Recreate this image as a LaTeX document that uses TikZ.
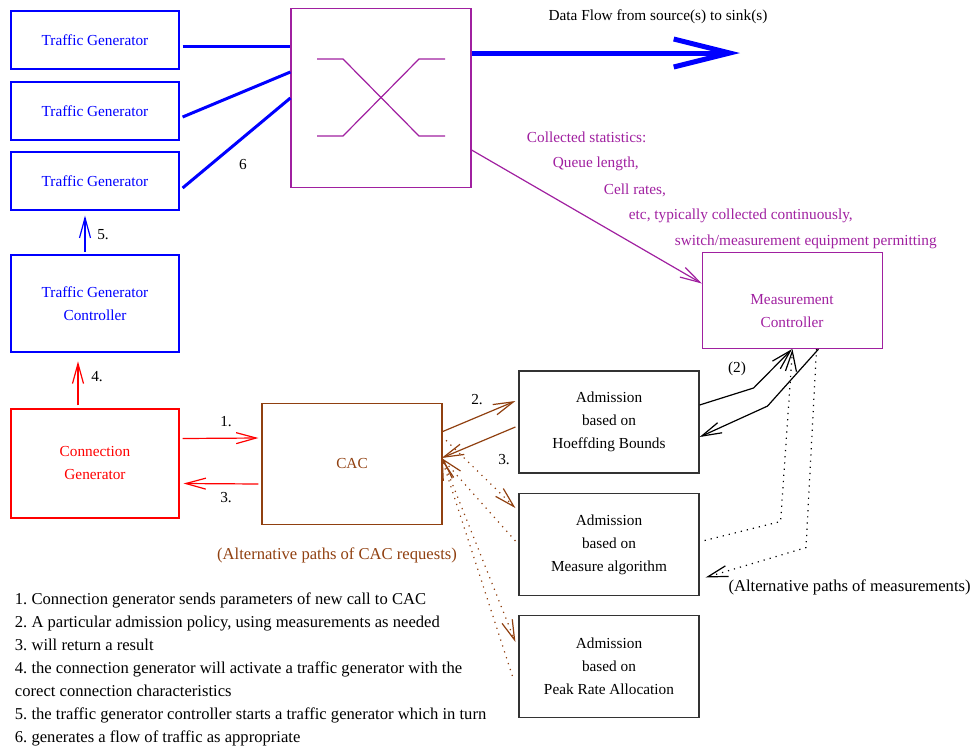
\documentclass[tikz,border=0pt]{standalone}
\usepackage{fontspec}
\setmainfont{Liberation Serif}
\usetikzlibrary{arrows.meta,calc}

\definecolor{swpurple}{RGB}{160,32,160}
\definecolor{cacbrown}{RGB}{144,64,16}
\newcommand{\figfont}{\fontsize{15.3}{23}\selectfont\frenchspacing}
\newcommand{\notefont}{\fontsize{16.6}{23}\selectfont\frenchspacing}

\begin{document}
\begin{tikzpicture}[x=1pt, y=-1pt, font=\figfont, line width=1.2pt,
  >={Straight Barb[length=20pt,width=11pt]},
  box/.style={draw, inner sep=0pt, align=center, minimum width=168pt},
  tgbox/.style={box, blue, minimum height=58pt},
  admbox/.style={box, black!80, text=black, minimum width=180pt, minimum height=102pt},
  dotline/.style={dash pattern=on 1.2pt off 5pt}]

  \useasboundingbox (0,0) rectangle (972,750);

  % traffic side
  \node[tgbox] (tg1) at (95,40) {Traffic Generator};
  \node[tgbox] (tg2) at (95,111) {Traffic Generator};
  \node[tgbox] (tg3) at (95,181) {Traffic Generator};
  \node[tgbox, line width=2.6pt, minimum height=97pt] (tgc) at (95,303.5) {Traffic Generator\\Controller};
  \node[box, red, minimum height=109pt] (cg) at (95,463.5) {Connection\\Generator};

  % switch
  \node[box, swpurple, minimum width=180pt, minimum height=179pt] (sw) at (381,98) {};
  \begin{scope}[swpurple]
    \draw ($(sw.center)+(-64,-39)$) -- ++(26,0) -- ++(76,77) -- ++(26,0);
    \draw ($(sw.center)+(-64,38)$) -- ++(26,0) -- ++(76,-77) -- ++(26,0);
  \end{scope}
  \coordinate (sink) at (740,53);
  \node (flow) at (658,17) {Data Flow from source(s) to sink(s)};

  \begin{scope}[blue, line width=3pt]
    \draw ($(tg1.east)+(3,6)$) -- ($(sw.west)+(0,-52)$);
    \draw ($(tg2.east)+(3,6)$) -- ($(sw.west)+(0,-26)$);
    \draw ($(tg3.east)+(3,7)$) -- (sw.west);
    \draw[->, line width=5pt, >={Straight Barb[length=56pt,width=28pt]}] ($(sw.east)+(0,-45)$) -- (sink);
  \end{scope}
  \node (six) at (243,165) {6};

  % measurement controller
  \node[box, swpurple, minimum width=180pt, minimum height=96pt] (mc) at (792.5,300.5) {};
  \node[swpurple, align=center] (mctext) at (792,311) {Measurement\\Controller};
  \draw[swpurple, ->] ($(sw.east)+(0,52)$) -- ($(mc.west)+(0,-17)$);
  \begin{scope}[swpurple]
    \node[anchor=west] (st1) at (523,137) {Collected statistics:};
    \node[anchor=west] (st2) at (549,164) {Queue length,};
    \node[anchor=west] (st3) at (600,190) {Cell rates,};
    \node[anchor=west] (st4) at (625,216) {etc, typically collected continuously,};
    \node[anchor=west] (st5) at (671,242) {switch/measurement equipment permitting};
  \end{scope}

  % CAC and admission policies
  \node[box, cacbrown, minimum width=180pt, minimum height=121pt] (cac) at (352,464) {CAC};
  \node[admbox] (a1) at (609,422) {Admission\\based on\\Hoeffding Bounds};
  \node[admbox] (a2) at (609,544.5) {Admission\\based on\\Measure algorithm};
  \node[admbox] (a3) at (609,666.5) {Admission\\based on\\Peak Rate Allocation};

  \begin{scope}[red]
    \draw[->] ($(cg.east)+(3,-25)$) -- ($(cac.west)+(-3,-26)$);
    \draw[->] ($(cac.west)+(-3,20)$) -- ($(cg.east)+(4,20)$);
    \draw[->] ($(cg.north)+(-17,-3)$) -- ($(tgc.south)+(-17,8)$);
  \end{scope}
  \draw[blue, ->] ($(tgc.north)+(-10,-2)$) -- ($(tg3.south)+(-10,5)$);
  \node (n1) at (226,422) {1.};
  \node (n3) at (226,498) {3.};
  \node (n4) at (97,377) {4.};
  \node (n5) at (103,235) {5.};

  \begin{scope}[cacbrown]
    \draw[->] ($(cac.east)+(-1,-32)$) -- ($(a1.west)+(-3,-21)$);
    \draw[->] ($(a1.west)+(-3,5)$) -- ($(cac.east)+(-1,-6)$);
    \draw[->, dotline] ($(cac.east)+(-1,-28)$) -- ($(a2.west)+(-3,-36.5)$);
    \draw[->, dotline] ($(a2.west)+(-3,-3.5)$) -- ($(cac.east)+(-1,-6)$);
    \draw[->, dotline] ($(cac.east)+(1,-2)$) -- ($(a3.west)+(-3,-24.5)$);
    \draw[->, dotline] ($(a3.west)+(-6,9.5)$) -- ($(cac.east)+(-1,-6)$);
    \node[font=\notefont] (alt1) at (337,555) {(Alternative paths of CAC requests)};
  \end{scope}
  \node (n2) at (477,400) {2.};
  \node (n3b) at (504,460) {3.};

  % measurements
  \draw[->] ($(a1.east)+(0,-17)$) -- ++(54,-17) -- ($(mc.south)+(-0.5,0)$);
  \draw[->] ($(mc.south)+(26,0)$) -- ++(-51,57) -- ($(a1.east)+(0,15)$);
  \draw[->, dotline] ($(a2.east)+(5,-4)$) -- ++(76,-19) -- (mc.south);
  \draw[->, dotline] ($(mc.south)+(24,0)$) -- ++(-10.5,198.5) -- ($(a2.east)+(6,33)$);
  \node (two) at (737,369) {(2)};
  \node[anchor=west, inner sep=0pt, font=\notefont] (alt2) at (728,587) {(Alternative paths of measurements)};

  % legend
  \node[anchor=west, align=left, font=\notefont] (legend) at (11,669) {1. Connection generator sends parameters of new call to CAC\\
    2. A particular admission policy, using measurements as needed\\
    3. will return a result\\
    4. the connection generator will activate a traffic generator with the\\
    corect connection characteristics\\
    5. the traffic generator controller starts a traffic generator which in turn\\
    6. generates a flow of traffic as appropriate};
\end{tikzpicture}
\end{document}
